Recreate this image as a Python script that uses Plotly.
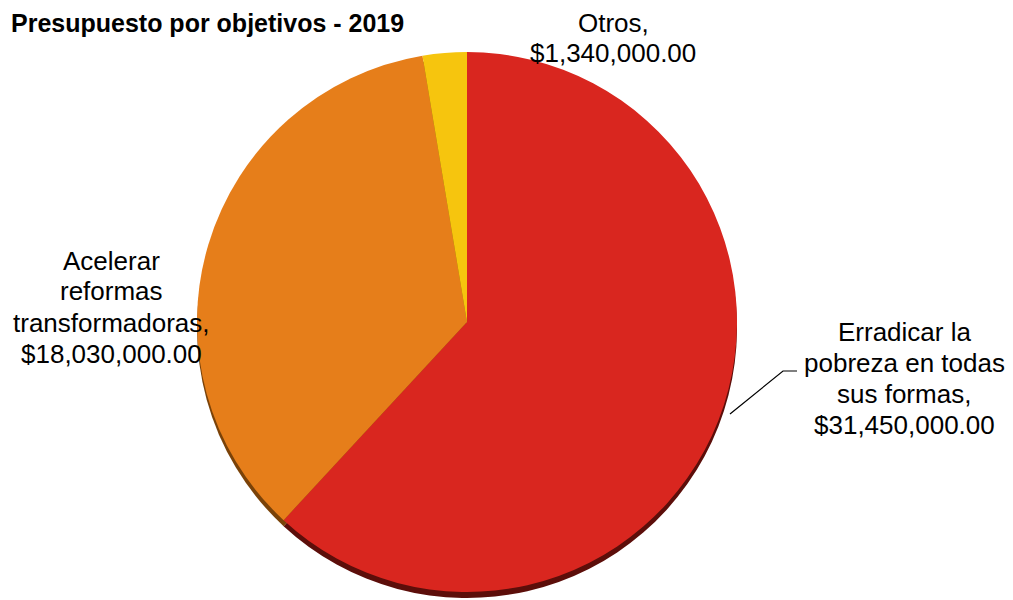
import plotly.graph_objects as go

# Data
labels = ["Erradicar la pobreza en todas sus formas", "Acelerar reformas transformadoras", "Otros"]
label_lines = [["Erradicar la", "pobreza en todas", "sus formas,"],
               ["Acelerar", "reformas", "transformadoras,"],
               ["Otros,"]]
values = [31450000, 18030000, 1340000]
colors = ["#D9261F", "#E67E1A", "#F6C50E"]
shadow_colors = ["#5C0E0A", "#7A4208", "#806606"]
title_text = "Presupuesto por objetivos - 2019"

W, H = 1013, 600
OFF = 8  # page body margin offset
cx, cy, r = 467, 322, 270
shadow_dy = 6
line_h = 31


def px(x):
    return (x - OFF) / W


def py(y):
    return 1 - (y - OFF) / H


fig = go.Figure()

# shadow pie
fig.add_trace(go.Pie(
    labels=labels, values=values, sort=False, direction="clockwise", rotation=0,
    marker=dict(colors=shadow_colors, line=dict(width=0)),
    textinfo="none", hoverinfo="skip", showlegend=False,
    domain=dict(x=[px(cx - r), px(cx + r)], y=[max(0, py(cy + shadow_dy + r)), py(cy + shadow_dy - r)]),
))
# main pie
fig.add_trace(go.Pie(
    labels=labels, values=values, sort=False, direction="clockwise", rotation=0,
    marker=dict(colors=colors, line=dict(width=0)),
    textinfo="none", showlegend=False,
    domain=dict(x=[px(cx - r), px(cx + r)], y=[py(cy + r), py(cy - r)]),
))

font = dict(family="Liberation Sans, Arial, sans-serif", size=26, color="#000000")
label_pos = [(904, 378), (111, 307), (613, 38)]
annotations = []
for lines, v, (lx, ly) in zip(label_lines, values, label_pos):
    all_lines = lines + [f"${v:,.2f}"]
    n = len(all_lines)
    for i, t in enumerate(all_lines):
        yy = ly + (i - (n - 1) / 2) * line_h
        annotations.append(dict(
            x=px(lx), y=py(yy), xref="paper", yref="paper",
            text=t, showarrow=False, font=font,
            xanchor="center", yanchor="middle", align="center",
        ))

# title
annotations.append(dict(
    x=px(10), y=1, xref="paper", yref="paper", text=f"<b>{title_text}</b>",
    showarrow=False, xanchor="left", yanchor="top", borderpad=0,
    font=dict(family="Liberation Sans, Arial, sans-serif", size=25, color="#000000"),
))

fig.update_layout(
    width=W, height=H,
    margin=dict(l=0, r=0, t=0, b=0),
    paper_bgcolor="white", plot_bgcolor="white",
    annotations=annotations,
    shapes=[dict(
        type="path", xref="paper", yref="paper",
        path=f"M {px(730)} {py(414)} L {px(783)} {py(371)} L {px(797)} {py(371)}",
        line=dict(color="#000000", width=1.2),
    )],
)

fig.write_html("out.html")
